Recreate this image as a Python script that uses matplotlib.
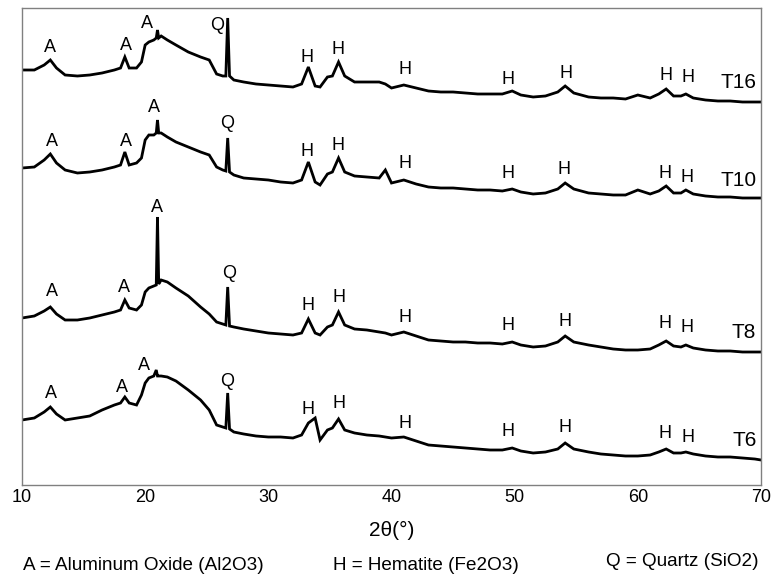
import matplotlib
matplotlib.use("Agg")
import matplotlib.pyplot as plt

# 2-theta sampling positions (degrees)
two_theta = [10, 11, 11.8, 12.3, 12.8, 13.5, 14.5, 15.5, 16.5, 17.5, 18.0, 18.35, 18.7, 19.3, 19.7,
             20.0, 20.3, 20.7, 20.9, 21.0, 21.1, 21.3, 21.8, 22.5, 23.5, 24.5, 25.2, 25.8, 26.3,
             26.55, 26.7, 26.85, 27.2, 28, 29, 30, 31, 32, 32.7, 33.25, 33.8, 34.2, 34.8, 35.2,
             35.7, 36.2, 37, 38, 39, 39.5, 40, 41, 42, 43, 44, 45, 46, 47, 48, 49, 49.8, 50.5,
             51.5, 52.5, 53.5, 54.1, 54.8, 56, 57, 58, 59, 60, 61, 61.7, 62.3, 62.9, 63.5, 63.9,
             64.5, 65.5, 66.5, 67.5, 68.5, 69.5, 70]

# Intensities (a.u., stacked)
T16 = [415, 415, 420, 425, 417, 410, 409, 410, 412, 415, 417, 428, 417, 417, 423,
       440, 443, 445, 447, 455, 447, 449, 445, 440, 433, 428, 425, 411, 409,
       409, 467, 409, 405, 403, 401, 400, 399, 398, 401, 418, 399, 398, 408, 409,
       423, 409, 403, 403, 403, 401, 397, 400, 397, 394, 393, 393, 392, 391, 391, 391, 394, 390,
       388, 389, 393, 399, 392, 388, 387, 387, 386, 390, 387, 391, 396, 389, 389, 391,
       387, 385, 384, 384, 383, 383, 383]
T10 = [317, 318, 325, 331, 322, 315, 312, 313, 315, 318, 320, 333, 320, 322, 327,
       345, 350, 350, 352, 365, 352, 352, 348, 343, 338, 333, 330, 318, 315,
       314, 347, 313, 310, 307, 306, 305, 303, 302, 305, 323, 303, 300, 311, 313,
       327, 313, 309, 308, 307, 315, 302, 305, 301, 298, 297, 297, 296, 295, 295, 294, 296, 293,
       291, 292, 296, 302, 296, 292, 291, 290, 290, 295, 291, 294, 299, 292, 292, 295,
       291, 289, 288, 288, 287, 287, 287]
T8 = [167, 169, 174, 178, 171, 165, 165, 167, 170, 173, 175, 185, 177, 175, 180,
      193, 197, 199, 200, 268, 201, 205, 203, 197, 189, 178, 171, 163, 161,
      160, 198, 159, 158, 156, 154, 152, 151, 150, 152, 166, 152, 150, 158, 160,
      173, 160, 156, 155, 153, 152, 150, 153, 149, 145, 144, 143, 143, 142, 142, 141, 143, 140,
      138, 139, 143, 149, 143, 140, 138, 136, 135, 135, 136, 140, 144, 139, 138, 140,
      137, 135, 134, 134, 133, 133, 133]
T6 = [65, 67, 73, 78, 71, 65, 67, 69, 75, 80, 82, 88, 82, 80, 90,
      102, 107, 109, 115, 109, 109, 109, 108, 104, 95, 85, 75, 60, 58,
      57, 92, 56, 53, 51, 49, 48, 48, 47, 50, 62, 67, 45, 55, 57,
      66, 55, 52, 50, 49, 48, 47, 48, 44, 40, 39, 38, 37, 36, 35, 35, 37, 34,
      32, 33, 36, 42, 36, 33, 31, 30, 29, 29, 30, 33, 36, 32, 32, 33,
      31, 29, 28, 28, 27, 26, 25]

series = [T16, T10, T8, T6]
series_names = ["T16", "T10", "T8", "T6"]

# Peak labels: letters, positions (2theta, intensity) per series
peak_letters = ["A", "A", "A", "Q", "H", "H", "H", "H", "H", "H", "H"]
T16_lab_x = [12.28, 18.46, 20.16, 25.85, 33.17, 35.69, 41.06, 49.43, 54.15, 62.28, 64.07]
T16_lab_y = [438, 440, 462, 460, 428, 436, 415, 405, 412, 410, 408]
T10_lab_x = [12.44, 18.46, 20.73, 26.67, 33.17, 35.69, 41.06, 49.43, 53.98, 62.2, 63.98]
T10_lab_y = [343, 343, 377, 362, 333, 340, 321, 312, 316, 312, 308]
T8_lab_x = [12.44, 18.29, 20.98, 26.83, 33.25, 35.77, 41.06, 49.43, 54.07, 62.2, 63.98]
T8_lab_y = [193, 197, 277, 212, 179, 187, 167, 160, 163, 161, 158]
T6_lab_x = [12.36, 18.13, 19.92, 26.67, 33.25, 35.77, 41.06, 49.43, 54.07, 62.2, 64.07]
T6_lab_y = [92, 97, 120, 103, 75, 81, 62, 53, 57, 52, 48]
lab_x = [T16_lab_x, T10_lab_x, T8_lab_x, T6_lab_x]
lab_y = [T16_lab_y, T10_lab_y, T8_lab_y, T6_lab_y]

name_x = [68.21, 68.21, 68.62, 68.7]
name_y = [403, 305, 153, 45]

x_ticks = [10, 20, 30, 40, 50, 60, 70]
legend_texts = ["A = Aluminum Oxide (Al2O3)", "H = Hematite (Fe2O3)", "Q = Quartz (SiO2)"]

plt.rcParams['font.family'] = ['Liberation Sans', 'DejaVu Sans']

fig = plt.figure(figsize=(7.71, 5.79), dpi=100)
ax = fig.add_axes([22 / 771, 1 - 485 / 579, (761 - 22) / 771, (485 - 8) / 579])

for ys in series:
    ax.plot(two_theta, ys, color='black', lw=2.0, solid_joinstyle='miter')

for lx, ly in zip(lab_x, lab_y):
    for letter, px, py in zip(peak_letters, lx, ly):
        ax.text(px, py, letter, ha='center', va='center', fontsize=13, color='black')

for nm, px, py in zip(series_names, name_x, name_y):
    ax.text(px, py, nm, ha='center', va='center', fontsize=15, color='black')

ax.set_xlim(10, 70)
ax.set_ylim(0, 477)
ax.set_yticks([])
ax.set_xticks(x_ticks)
ax.set_xticklabels([str(t) for t in x_ticks], fontsize=13)
ax.tick_params(axis='x', length=0, pad=3)
for sp in ax.spines.values():
    sp.set_color('#808080')
    sp.set_linewidth(1.0)

ax.text(0.5, -0.095, "2θ(°)", transform=ax.transAxes, ha='center', va='center',
        fontsize=15, family=['Liberation Sans', 'DejaVu Sans'])

fig.text(23 / 771, 1 - 565 / 579, legend_texts[0], ha='left', va='center', fontsize=13.6)
fig.text(333 / 771, 1 - 565 / 579, legend_texts[1], ha='left', va='center', fontsize=13.6)
fig.text(759 / 771, 1 - 562 / 579, legend_texts[2], ha='right', va='center', fontsize=13.6)

fig.savefig("out.png", dpi=100)
